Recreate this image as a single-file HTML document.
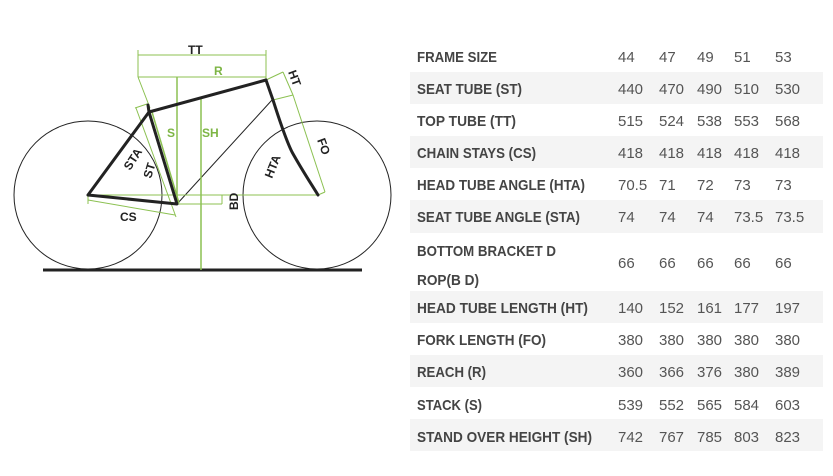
<!DOCTYPE html>
<html><head><meta charset="utf-8"><style>
html,body{margin:0;padding:0;background:#fff;width:833px;height:476px;overflow:hidden}
svg{display:block}
.l{font-family:"Liberation Sans",sans-serif;font-weight:bold;font-size:15px;fill:#444}
.v{font-family:"Liberation Sans",sans-serif;font-size:15px;fill:#555}
.b{font-family:"Liberation Sans",sans-serif;font-weight:bold;font-size:12px;fill:#222}
.g{font-family:"Liberation Sans",sans-serif;font-weight:bold;font-size:12px;fill:#7db544}
</style></head><body>
<svg width="833" height="476" viewBox="0 0 833 476" xmlns="http://www.w3.org/2000/svg">
<g fill="#f4f4f4">
<rect x="410" y="72" width="413" height="32"/>
<rect x="410" y="136" width="413" height="32"/>
<rect x="410" y="200" width="413" height="33"/>
<rect x="410" y="291" width="413" height="32"/>
<rect x="410" y="355" width="413" height="32"/>
<rect x="410" y="419" width="413" height="32"/>
</g>
<g class="l">
<text x="417" y="62" textLength="80" lengthAdjust="spacingAndGlyphs">FRAME SIZE</text>
<text x="417" y="94" textLength="105" lengthAdjust="spacingAndGlyphs">SEAT TUBE (ST)</text>
<text x="417" y="126" textLength="99" lengthAdjust="spacingAndGlyphs">TOP TUBE (TT)</text>
<text x="417" y="158" textLength="119" lengthAdjust="spacingAndGlyphs">CHAIN STAYS (CS)</text>
<text x="417" y="190" textLength="168" lengthAdjust="spacingAndGlyphs">HEAD TUBE ANGLE (HTA)</text>
<text x="417" y="222" textLength="163" lengthAdjust="spacingAndGlyphs">SEAT TUBE ANGLE (STA)</text>
<text x="417" y="256" textLength="139" lengthAdjust="spacingAndGlyphs">BOTTOM BRACKET D</text>
<text x="417" y="285" textLength="62" lengthAdjust="spacingAndGlyphs">ROP(B D)</text>
<text x="417" y="313" textLength="171" lengthAdjust="spacingAndGlyphs">HEAD TUBE LENGTH (HT)</text>
<text x="417" y="345" textLength="129" lengthAdjust="spacingAndGlyphs">FORK LENGTH (FO)</text>
<text x="417" y="377" textLength="69" lengthAdjust="spacingAndGlyphs">REACH (R)</text>
<text x="417" y="410" textLength="65" lengthAdjust="spacingAndGlyphs">STACK (S)</text>
<text x="417" y="442" textLength="175" lengthAdjust="spacingAndGlyphs">STAND OVER HEIGHT (SH)</text>
</g>
<g class="v">
<text y="62"><tspan x="618">44</tspan><tspan x="659">47</tspan><tspan x="697">49</tspan><tspan x="734">51</tspan><tspan x="775">53</tspan></text>
<text y="94"><tspan x="618">440</tspan><tspan x="659">470</tspan><tspan x="697">490</tspan><tspan x="734">510</tspan><tspan x="775">530</tspan></text>
<text y="126"><tspan x="618">515</tspan><tspan x="659">524</tspan><tspan x="697">538</tspan><tspan x="734">553</tspan><tspan x="775">568</tspan></text>
<text y="158"><tspan x="618">418</tspan><tspan x="659">418</tspan><tspan x="697">418</tspan><tspan x="734">418</tspan><tspan x="775">418</tspan></text>
<text y="190"><tspan x="618">70.5</tspan><tspan x="659">71</tspan><tspan x="697">72</tspan><tspan x="734">73</tspan><tspan x="775">73</tspan></text>
<text y="222"><tspan x="618">74</tspan><tspan x="659">74</tspan><tspan x="697">74</tspan><tspan x="734">73.5</tspan><tspan x="775">73.5</tspan></text>
<text y="268"><tspan x="618">66</tspan><tspan x="659">66</tspan><tspan x="697">66</tspan><tspan x="734">66</tspan><tspan x="775">66</tspan></text>
<text y="313"><tspan x="618">140</tspan><tspan x="659">152</tspan><tspan x="697">161</tspan><tspan x="734">177</tspan><tspan x="775">197</tspan></text>
<text y="345"><tspan x="618">380</tspan><tspan x="659">380</tspan><tspan x="697">380</tspan><tspan x="734">380</tspan><tspan x="775">380</tspan></text>
<text y="377"><tspan x="618">360</tspan><tspan x="659">366</tspan><tspan x="697">376</tspan><tspan x="734">380</tspan><tspan x="775">389</tspan></text>
<text y="410"><tspan x="618">539</tspan><tspan x="659">552</tspan><tspan x="697">565</tspan><tspan x="734">584</tspan><tspan x="775">603</tspan></text>
<text y="442"><tspan x="618">742</tspan><tspan x="659">767</tspan><tspan x="697">785</tspan><tspan x="734">803</tspan><tspan x="775">823</tspan></text>
</g>

<g fill="none" stroke="#222" stroke-width="1">
<circle cx="88" cy="195" r="74"/>
<circle cx="317" cy="195" r="74"/>
<line x1="177" y1="204" x2="272" y2="100"/>
</g>
<line x1="43" y1="270" x2="362" y2="270" stroke="#222" stroke-width="3"/>
<g stroke="#8cc152" stroke-width="1" fill="none">
<line x1="88" y1="195" x2="318" y2="195"/>
<line x1="138" y1="55" x2="266" y2="55"/>
<line x1="138" y1="50" x2="138" y2="77"/>
<line x1="266" y1="50" x2="266" y2="80"/>
<line x1="138" y1="77" x2="266" y2="77"/>
<line x1="138" y1="77" x2="150" y2="108"/>
<line x1="177" y1="77" x2="177" y2="204" stroke-width="1.5"/>
<line x1="201" y1="99" x2="201" y2="270" stroke-width="1.5"/>
<line x1="177" y1="204" x2="222" y2="204"/>
<line x1="222" y1="195" x2="222" y2="204"/>
<line x1="152" y1="112" x2="179" y2="203" stroke-width="1.5"/>
<line x1="136" y1="108" x2="176" y2="217"/>
<line x1="135" y1="108" x2="147" y2="104"/>
<line x1="88" y1="200" x2="175" y2="215"/>
<line x1="88" y1="196" x2="88" y2="204"/>
<line x1="266" y1="80" x2="283" y2="72"/>
<line x1="283" y1="72" x2="293" y2="95"/>
<line x1="273" y1="100" x2="293" y2="95"/>
<line x1="293" y1="95" x2="325" y2="192"/>
<line x1="318" y1="195" x2="325" y2="192"/>
</g>
<g stroke="#222" stroke-width="3" fill="none" stroke-linecap="round" stroke-linejoin="round">
<polyline points="88,195 149,112 177,204 88,195"/>
<line x1="149" y1="112" x2="266" y2="80"/>
<line x1="148" y1="105" x2="149" y2="112"/>
<path d="M266,80 L273,100 C280,122 286,140 292,152 C302,170 310,182 318,195"/>
</g>
<text class="b" x="188" y="54">TT</text>
<text class="g" x="214" y="75">R</text>
<text class="g" x="167" y="137">S</text>
<text class="g" x="202" y="137">SH</text>
<text class="b" transform="translate(130,171) rotate(-57)">STA</text>
<text class="b" transform="translate(151,179) rotate(-73)">ST</text>
<text class="b" x="120" y="221">CS</text>
<text class="b" transform="translate(238,210) rotate(-90)">BD</text>
<text class="b" transform="translate(288,72) rotate(70)">HT</text>
<text class="b" transform="translate(317,140) rotate(70)">FO</text>
<text class="b" transform="translate(272,179) rotate(-68)">HTA</text>
</svg>
</body></html>
